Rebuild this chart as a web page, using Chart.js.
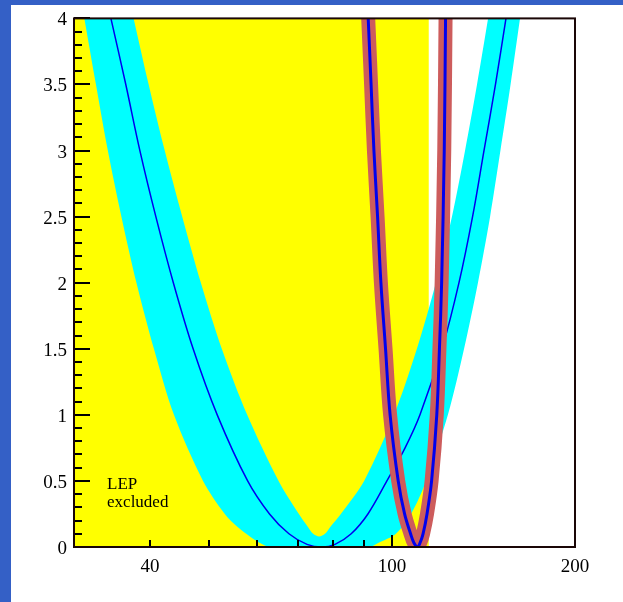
<!DOCTYPE html>
<html>
<head>
<meta charset="utf-8">
<script src="https://cdn.jsdelivr.net/npm/chart.js@4.4.1/dist/chart.umd.min.js"></script>
<style>
  html, body { margin: 0; padding: 0; background: #fff; }
  #wrap { position: relative; width: 623px; height: 602px; overflow: hidden; }
  .strip { position: absolute; background: #3460c6; }
  #top { left: 0; top: 0; width: 623px; height: 5px; }
  #left { left: 0; top: 0; width: 11px; height: 602px; }
  canvas { position: absolute; left: 0; top: 0; }
</style>
</head>
<body>
<div id="wrap">
  <div class="strip" id="top"></div>
  <div class="strip" id="left"></div>
  <canvas id="chi2Chart" width="623" height="602"></canvas>
</div>
<script>
// axis ticks
var xTicks = [40, 100, 200];
var xMinorTicks = [40, 50, 60, 70, 80, 90, 100];
var yTicks = [0, 0.5, 1, 1.5, 2, 2.5, 3, 3.5, 4];

// LEP excluded region (Higgs mass below the limit)
var lepLimit = 115;

// cyan band: lower edge (outer U) and upper edge (inner V), left to right
var bandLowMass = [31.2, 32.6, 34.1, 35.9, 38.0, 40.6, 43.8, 48.9, 53.1, 55.8, 58.4, 60.7, 63.0,
                   91.7, 94.9, 101.5, 107.5, 113.8, 123.6, 131.4, 138.5, 145.0, 150.8, 156.7, 162.4];
var bandLowChi2 = [4, 3.5, 3, 2.5, 2, 1.5, 1, 0.5, 0.25, 0.15, 0.08, 0.03, 0,
                   0, 0.03, 0.1, 0.25, 0.5, 1, 1.5, 2, 2.5, 3, 3.5, 4];
var bandHighMass = [37.6, 39.8, 42.3, 45.2, 48.5, 52.5, 57.8, 65.1, 70.3, 72.8, 74.2, 75.9,
                    77.6, 79.1, 82.4, 90.0, 100.8, 109.9, 118.1, 125.5, 131.9, 138.0, 143.9];
var bandHighChi2 = [4, 3.5, 3, 2.5, 2, 1.5, 1, 0.5, 0.25, 0.15, 0.1, 0.08,
                    0.1, 0.15, 0.25, 0.5, 1, 1.5, 2, 2.5, 3, 3.5, 4];

// central curve inside the cyan band
var fitMass = [34.5, 36.5, 38.5, 40.9, 43.7, 47.1, 51.6, 57.9, 62.9, 67.7, 72.5, 76.7,
               80.6, 85.7, 91.3, 98.1, 105.1, 111.2, 120.9, 128.9, 135.7, 141.7, 148.0, 154.0];
var fitChi2 = [4, 3.5, 3, 2.5, 2, 1.5, 1, 0.5, 0.25, 0.1, 0.02, 0,
               0.02, 0.1, 0.25, 0.5, 0.75, 1, 1.5, 2, 2.5, 3, 3.5, 4];

// narrow red curve
var redMass = [91.4, 92.4, 93.4, 94.7, 95.9, 97.6, 99.3, 102.4, 104.9, 107.3, 108.7, 110.2,
               111.2, 112.5, 114.2, 116.2, 118.5, 119.7, 120.7, 121.9, 122.5];
var redChi2 = [4, 3.5, 3, 2.5, 2, 1.5, 1, 0.5, 0.25, 0.1, 0.03, 0,
               0.03, 0.1, 0.25, 0.5, 1, 1.5, 2, 3, 4];

function pts(xs, ys) {
  return xs.map(function (v, i) { return {x: v, y: ys[i]}; });
}

// closed outline of the band: lower edge left->right, upper edge right->left.
// the top corners are repeated so the spline keeps them sharp
var low = pts(bandLowMass, bandLowChi2);
var high = pts(bandHighMass, bandHighChi2).reverse();
var bandShape = low.concat([low[low.length - 1], high[0]], high);

var serif = '"Liberation Serif", "DejaVu Serif", serif';

var framePlugin = {
  id: 'frame',
  afterDatasetsDraw: function (chart) {
    var ctx = chart.ctx, a = chart.chartArea, x = chart.scales.x, y = chart.scales.y;
    ctx.save();
    ctx.strokeStyle = '#000';
    ctx.lineWidth = 2;
    ctx.beginPath();
    for (var i = 0; i <= 40; i++) {
      var py = Math.round(y.getPixelForValue(i / 10));
      ctx.moveTo(a.left, py);
      ctx.lineTo(a.left + (i % 5 === 0 ? 16 : 8), py);
    }
    xMinorTicks.forEach(function (v) {
      var px = Math.round(x.getPixelForValue(v));
      ctx.moveTo(px, a.bottom);
      ctx.lineTo(px, a.bottom - (v === 100 ? 12 : 7));
    });
    ctx.stroke();
    ctx.strokeStyle = '#1a0606';
    ctx.strokeRect(a.left, a.top, a.right - a.left, a.bottom - a.top);
    ctx.fillStyle = '#000';
    ctx.font = '17px ' + serif;
    ctx.textBaseline = 'alphabetic';
    ctx.fillText('LEP', x.getPixelForValue(34), y.getPixelForValue(0.44));
    ctx.fillText('excluded', x.getPixelForValue(34), y.getPixelForValue(0.305));
    ctx.restore();
  }
};

var ctx = document.getElementById('chi2Chart').getContext('2d');
var chi2Chart = new Chart(ctx, {
  type: 'line',
  data: {
    datasets: [
      {
        // blue line on the red curve
        data: pts(redMass, redChi2),
        borderColor: '#0000ee', borderWidth: 3, tension: 0.35,
        pointRadius: 0, fill: false, clip: 0, order: 1
      },
      {
        data: pts(redMass, redChi2),
        borderColor: '#cd5c5c', borderWidth: 14, tension: 0.35,
        pointRadius: 0, fill: false, clip: 0, order: 2
      },
      {
        data: pts(fitMass, fitChi2),
        borderColor: '#0000ee', borderWidth: 1.5, tension: 0.35,
        pointRadius: 0, fill: false, clip: 0, order: 3
      },
      {
        data: bandShape,
        borderWidth: 0, borderColor: 'rgba(0,0,0,0)', backgroundColor: '#00ffff',
        tension: 0.3, pointRadius: 0, fill: 'shape', clip: 0, order: 4
      },
      {
        data: [{x: 30, y: 4}, {x: lepLimit, y: 4}],
        borderWidth: 0, borderColor: 'rgba(0,0,0,0)', backgroundColor: '#ffff00',
        pointRadius: 0, fill: 'start', clip: 0, order: 5
      }
    ]
  },
  options: {
    responsive: false,
    animation: false,
    events: [],
    layout: { padding: { top: 17, right: 48, left: 0, bottom: 0 } },
    plugins: { legend: { display: false }, tooltip: { enabled: false } },
    scales: {
      x: {
        type: 'logarithmic',
        min: 30, max: 200,
        grid: { display: false, drawTicks: false, tickLength: 0 },
        border: { display: false },
        afterBuildTicks: function (s) { s.ticks = xTicks.map(function (v) { return {value: v}; }); },
        afterFit: function (s) { s.height = 55; },
        ticks: {
          autoSkip: false, maxRotation: 0, padding: 9, color: '#000',
          font: { family: serif, size: 19 },
          callback: function (v) { return String(v); }
        }
      },
      y: {
        type: 'linear',
        min: 0, max: 4,
        grid: { display: false, drawTicks: false, tickLength: 0 },
        border: { display: false },
        afterBuildTicks: function (s) { s.ticks = yTicks.map(function (v) { return {value: v}; }); },
        afterFit: function (s) { s.width = 74; },
        ticks: {
          autoSkip: false, padding: 7, labelOffset: 2, color: '#000',
          font: { family: serif, size: 19 },
          callback: function (v) { return String(v); }
        }
      }
    }
  },
  plugins: [framePlugin]
});
</script>
</body>
</html>
